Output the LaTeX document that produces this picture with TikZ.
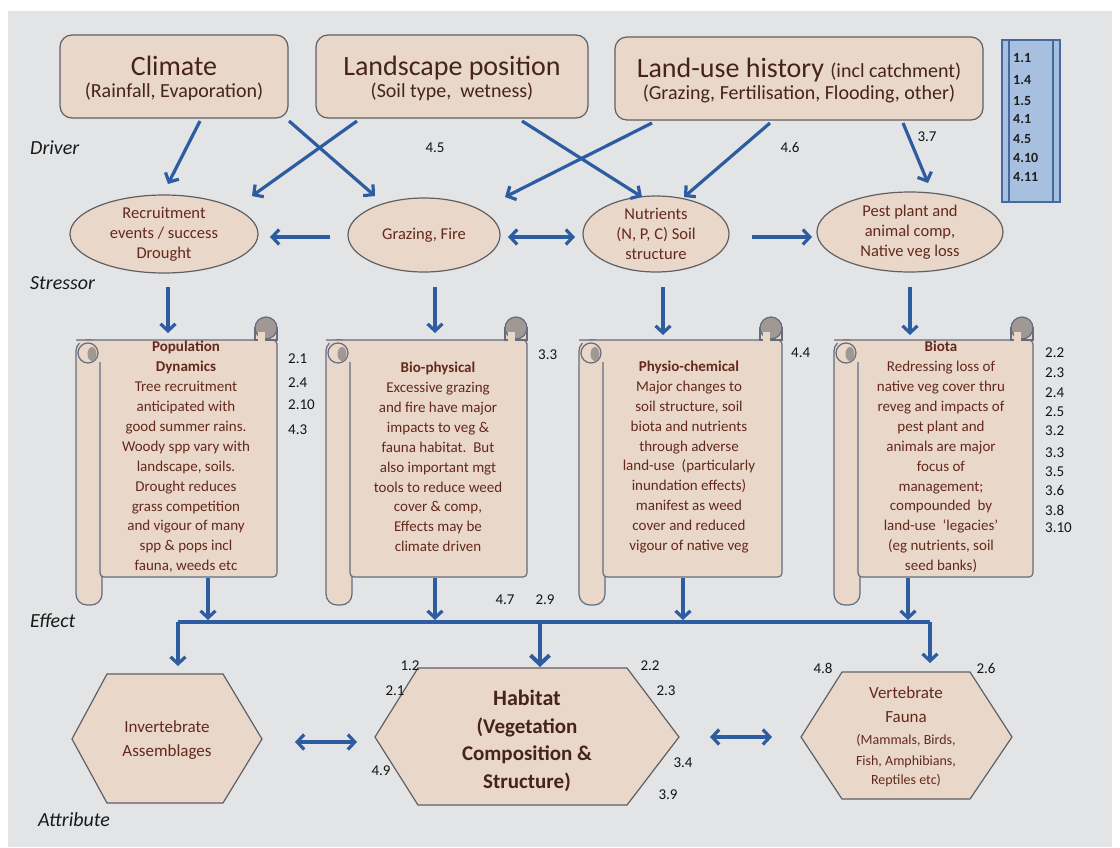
\documentclass[tikz,border=0pt]{standalone}
\usepackage{fontspec}
\setmainfont{Carlito}
\usetikzlibrary{arrows.meta,shapes.geometric,calc}
\definecolor{bg}{RGB}{226,228,230}
\definecolor{tanf}{RGB}{233,216,201}
\definecolor{edge}{RGB}{95,95,100}
\definecolor{sedge}{RGB}{100,108,125}
\definecolor{arr}{RGB}{46,92,160}
\definecolor{tbrown}{RGB}{70,35,28}
\definecolor{sbrown}{RGB}{100,40,30}
\definecolor{curlg}{RGB}{160,152,146}
\definecolor{legfill}{RGB}{168,192,224}
\definecolor{legedge}{RGB}{70,105,160}
\newcommand{\scrollat}[4]{%
  \draw[scrl, rounded corners=11pt] ({#1-24},{#2}) rectangle ({#1+2},{#4+28});
  \draw[scrl, rounded corners=4pt] ({#1-24},{#2}) -- (#3,#2) -- (#3,#4) -- (#1,#4) -- ({#1},{#2+22});
  \draw[scrl] ({#1-12},{#2+13}) circle[radius=10];
  \fill[curlg] ({#1-8},{#2+14}) ellipse[x radius=4.5, y radius=7];
  \draw[scrl] ({#3-22},{#2-12}) rectangle (#3,#2);
  \draw[scrl, fill=curlg] ({#3-11},{#2-12}) circle[radius=11];
  \fill[tanf] ({#3-19},{#2-8}) rectangle ({#3-12},{#2+1});
}
\begin{document}
\begin{tikzpicture}[x=1pt,y=-1pt,
  box/.style={draw=edge,fill=tanf,line width=1.2pt},
  topbox/.style={box,rounded corners=12pt,inner sep=0pt},
  ell/.style={box,ellipse,inner sep=0pt},
  lbl/.style={inner sep=0pt,font=\fontsize{20}{24}\selectfont\itshape,text=black!90,anchor=west},
  num/.style={inner sep=0pt,font=\fontsize{15}{17}\selectfont,text=black!92},
  lnum/.style={inner sep=0pt,anchor=west,font=\fontsize{14}{16}\selectfont\bfseries,text=black!88},
  ttl/.style={inner sep=0pt,anchor=base,text=tbrown,font=\fontsize{28}{32}\selectfont},
  subt/.style={inner sep=0pt,anchor=base,text=tbrown,font=\fontsize{20}{24}\selectfont},
  etext/.style={inner sep=0pt,align=center,text=sbrown,font=\fontsize{16.5}{20}\selectfont},
  stext/.style={inner sep=0pt,align=center,text=sbrown,font=\fontsize{15}{19.9}\selectfont},
  scrl/.style={draw=sedge,fill=tanf,line width=1.2pt},
  flow/.style={draw=arr,line width=3.2pt,-{Straight Barb[length=7pt,width=15pt]}},
  dbl/.style={draw=arr,line width=3.2pt,{Straight Barb[length=7pt,width=15pt]}-{Straight Barb[length=7pt,width=15pt]}},
]
\useasboundingbox (0,0) rectangle (1120,847);
\fill[white] (0,0) rectangle (1120,847);
\fill[bg] (8,11) rectangle (1112,847);

% ---- drivers
\node[topbox,minimum width=228pt,minimum height=83pt] (clim) at (174,76.5) {};
\node[ttl] (climt) at (174,75) {Climate};
\node[subt] (clims) at (174,97) {(Rainfall, Evaporation)};
\node[topbox,minimum width=272pt,minimum height=83pt] (land) at (452,76.5) {};
\node[ttl] (landt) at (452,75) {Landscape position};
\node[subt] (lands) at (452,97) {(Soil type,\ \ wetness)};
\node[topbox,minimum width=368pt,minimum height=83pt] (luse) at (799,78.5) {};
\node[ttl] (luset) at (799,77) {Land-use history {\fontsize{20}{24}\selectfont (incl catchment)}};
\node[subt] (luses) at (799,99) {(Grazing, Fertilisation, Flooding, other)};

% legend
\draw[legedge,fill=legfill,line width=1.2pt] (1002,40) rectangle (1060,202);
\draw[legedge,line width=1.2pt] (1009,40) -- (1009,202) (1053,40) -- (1053,202);
\node[lnum] (l1) at (1013,58) {1.1};
\node[lnum] (l2) at (1013,80) {1.4};
\node[lnum] (l3) at (1013,101) {1.5};
\node[lnum] (l4) at (1013,119) {4.1};
\node[lnum] (l5) at (1013,139) {4.5};
\node[lnum] (l6) at (1013,158) {4.10};
\node[lnum] (l7) at (1013,177) {4.11};

% row labels
\node[lbl] (drv) at (30,148) {Driver};
\node[lbl] (str) at (30,283) {Stressor};
\node[lbl] (eff) at (30,621) {Effect};
\node[lbl] (att) at (38,820) {Attribute};

\node[num] (n45) at (435,148) {4.5};
\node[num] (n46) at (790,147) {4.6};
\node[num] (n37) at (927,137) {3.7};

% ---- stressors
\node[ell,minimum width=188pt,minimum height=78pt] (rec) at (164,234) {};
\node[etext] (rect) at (164,234) {Recruitment\\events / success\\Drought};
\node[ell,minimum width=152pt,minimum height=74pt] (graz) at (424,235) {};
\node[etext] (grazt) at (424,235) {Grazing, Fire};
\node[ell,minimum width=146pt,minimum height=76pt] (nut) at (656,234) {};
\node[etext] (nutt) at (656,234) {Nutrients\\(N, P, C) Soil\\structure};
\node[ell,minimum width=186pt,minimum height=80pt] (pest) at (910,232) {};
\node[etext] (pestt) at (910,232) {Pest plant and\\animal comp,\\Native veg loss};

% ---- scrolls (effects)
\scrollat{100}{340}{277}{577}
\scrollat{350}{340}{527}{577}
\scrollat{603}{340}{782}{577}
\scrollat{858}{340}{1033}{577}
\node[stext] (pop) at (186,457) {\textbf{Population}\\\textbf{Dynamics}\\Tree recruitment\\anticipated with\\good summer rains.\\Woody spp vary with\\landscape, soils.\\Drought reduces\\grass competition\\and vigour of many\\spp \& pops incl\\fauna, weeds etc};
\node[stext] (bio) at (438,457) {\textbf{Bio-physical}\\Excessive grazing\\and fire have major\\impacts to veg \&\\fauna habitat.\ \ But\\also important mgt\\tools to reduce weed\\cover \& comp,\\Effects may be\\climate driven};
\node[stext] (phy) at (689,457) {\textbf{Physio-chemical}\\Major changes to\\soil structure, soil\\biota and nutrients\\through adverse\\land-use\ \ (particularly\\inundation\ effects)\\manifest as weed\\cover and reduced\\vigour of native veg};
\node[stext] (bta) at (941,457) {\textbf{Biota}\\Redressing loss of\\native veg cover thru\\reveg and impacts of\\pest plant and\\animals are major\\focus of\\management;\\compounded\ \ by\\land-use\ \ `legacies'\\(eg nutrients, soil\\seed banks)};

\node[num,anchor=west] (s1a) at (288,359) {2.1};
\node[num,anchor=west] (s1b) at (288,383) {2.4};
\node[num,anchor=west] (s1c) at (288,405) {2.10};
\node[num,anchor=west] (s1d) at (288,430) {4.3};
\node[num,anchor=west] (s2a) at (538,355) {3.3};
\node[num,anchor=west] (s3a) at (791,353) {4.4};
\foreach \t/\yy [count=\i] in {2.2/353,2.3/373,2.4/393,2.5/412,3.2/431,3.3/453,3.5/472,3.6/490,3.8/510,3.10/528}
  \node[num,anchor=west] (s4\i) at (1045,\yy) {\t};
\node[num] (n47) at (505,600) {4.7};
\node[num] (n29) at (545,600) {2.9};

% ---- attributes (hexagons)
\draw[box] (72,739) -- (107,674) -- (223,674) -- (262,739) -- (223,803) -- (107,803) -- cycle;
\node[inner sep=0pt,align=center,text=sbrown,font=\fontsize{17}{24}\selectfont] (inv) at (167,740) {Invertebrate\\Assemblages};
\draw[box] (375,737) -- (418,668) -- (627,668) -- (679,737) -- (627,805) -- (418,805) -- cycle;
\node[inner sep=0pt,align=center,text=tbrown,font=\fontsize{21}{27.5}\selectfont\bfseries] (hab) at (527,741) {{\fontsize{22}{27.5}\selectfont Habitat}\\(Vegetation\\Composition \&\\Structure)};
\draw[box] (801,737) -- (842,672) -- (970,672) -- (1012,737) -- (970,799) -- (842,799) -- cycle;
\node[inner sep=0pt,align=center,text=sbrown,font=\fontsize{17}{24}\selectfont] (vert) at (906,705) {Vertebrate\\Fauna};
\node[inner sep=0pt,align=center,text=sbrown,font=\fontsize{14}{20}\selectfont] (verts) at (906,761) {(Mammals, Birds,\\Fish, Amphibians,\\Reptiles etc)};

\node[num] (h12) at (410,666) {1.2};
\node[num] (h21) at (395,691) {2.1};
\node[num] (h49) at (381,771) {4.9};
\node[num] (h22) at (650,666) {2.2};
\node[num] (h23) at (666,691) {2.3};
\node[num] (h34) at (683,763) {3.4};
\node[num] (h39) at (668,795) {3.9};
\node[num] (h48) at (823,668) {4.8};
\node[num] (h26) at (986,668) {2.6};

% ---- connector end points
\coordinate (a1) at (200,121); \coordinate (b1) at (168,184);
\coordinate (a2) at (289,121); \coordinate (b2) at (375,196);
\coordinate (a3) at (357,121); \coordinate (b3) at (252,196);
\coordinate (a4) at (522,121); \coordinate (b4) at (642,197);
\coordinate (a5) at (652,123); \coordinate (b5) at (505,197);
\coordinate (a6) at (770,123); \coordinate (b6) at (684,197);
\coordinate (a7) at (903,123); \coordinate (b7) at (928,183);
\draw[flow] (a1) -- (b1);
\draw[flow] (a2) -- (b2);
\draw[flow] (a3) -- (b3);
\draw[flow] (a4) -- (b4);
\draw[flow] (a5) -- (b5);
\draw[flow] (a6) -- (b6);
\draw[flow] (a7) -- (b7);

\coordinate (g1) at (330,237); \coordinate (g0) at (270,237);
\draw[flow] (g1) -- (g0);
\coordinate (gn1) at (508,237); \coordinate (gn2) at (575,237);
\draw[dbl] (gn1) -- (gn2);
\coordinate (np1) at (752,237); \coordinate (np2) at (812,237);
\draw[flow] (np1) -- (np2);

\coordinate (r1) at (168,287); \coordinate (r2) at (168,333);
\coordinate (g2a) at (435,287); \coordinate (g2b) at (435,333);
\coordinate (n1) at (663,287); \coordinate (n2) at (663,335);
\coordinate (p1) at (910,287); \coordinate (p2) at (910,335);
\draw[flow] (r1) -- (r2);
\draw[flow] (g2a) -- (g2b);
\draw[flow] (n1) -- (n2);
\draw[flow] (p1) -- (p2);

\coordinate (e1) at (208,578); \coordinate (e1b) at (208,620);
\coordinate (e2) at (435,578); \coordinate (e2b) at (435,620);
\coordinate (e3) at (683,578); \coordinate (e3b) at (683,620);
\coordinate (e4) at (908,578); \coordinate (e4b) at (908,620);
\draw[flow] (e1) -- (e1b);
\draw[flow] (e2) -- (e2b);
\draw[flow] (e3) -- (e3b);
\draw[flow] (e4) -- (e4b);
\coordinate (busL) at (178,622); \coordinate (busR) at (930,622);
\coordinate (busH) at (540,622);
\coordinate (invtop) at (178,666); \coordinate (habtop) at (540,667); \coordinate (verttop) at (930,663);
\draw[arr,line width=3.2pt] (busL) -- (busR);
\draw[flow] (busL) -- (invtop);
\draw[draw=arr,line width=4pt,-{Straight Barb[length=9pt,width=19pt]}] (busH) -- (habtop);
\draw[flow] (busR) -- (verttop);

\coordinate (ih1) at (295,742); \coordinate (ih2) at (357,742);
\coordinate (hv1) at (710,737); \coordinate (hv2) at (772,737);
\draw[dbl] (ih1) -- (ih2);
\draw[dbl] (hv1) -- (hv2);
\end{tikzpicture}
\end{document}
